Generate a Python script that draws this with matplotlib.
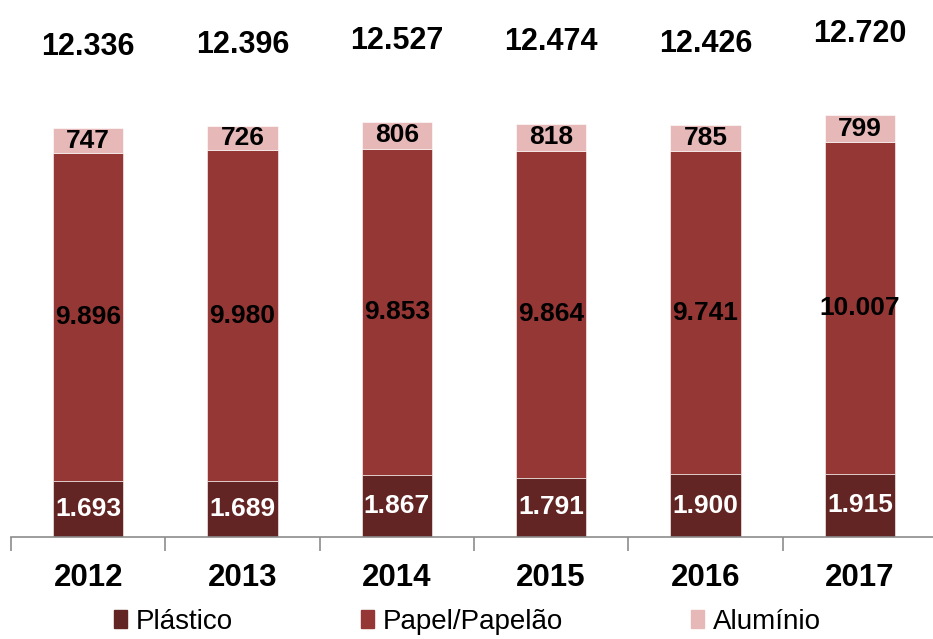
import matplotlib.pyplot as plt
from matplotlib.patches import Patch
import numpy as np

anos = ["2012", "2013", "2014", "2015", "2016", "2017"]
plastico = [1693, 1689, 1867, 1791, 1900, 1915]
papel = [9896, 9980, 9853, 9864, 9741, 10007]
aluminio = [747, 726, 806, 818, 785, 799]
totais = [12336, 12396, 12527, 12474, 12426, 12720]

c_plas = "#632523"
c_pap = "#953735"
c_alu = "#e6b9b8"


def fmt(v):
    return "{:,}".format(v).replace(",", ".")


plt.rcParams['font.family'] = ['Liberation Sans', 'DejaVu Sans']

fig = plt.figure(figsize=(9.33, 6.39), dpi=100)
ax = fig.add_axes([11 / 933, 102 / 639, 926 / 933, 537 / 639])

x = np.arange(len(anos))
w = 0.455
plas = np.array(plastico)
pap = np.array(papel)
alu = np.array(aluminio)

ax.bar(x, plas, w, color=c_plas, edgecolor="white", linewidth=0.4)
ax.bar(x, pap, w, bottom=plas, color=c_pap, edgecolor="white", linewidth=0.4)
ax.bar(x, alu, w, bottom=plas + pap, color=c_alu, edgecolor="white", linewidth=0.4)

for i in range(len(anos)):
    ax.text(x[i], plas[i] / 2, fmt(plastico[i]), ha="center", va="center",
            color="white", fontsize=19, fontweight="bold")
    ax.text(x[i], plas[i] + pap[i] / 2, fmt(papel[i]), ha="center", va="center",
            color="black", fontsize=19, fontweight="bold")
    ax.text(x[i], plas[i] + pap[i] + alu[i] / 2, fmt(aluminio[i]), ha="center",
            va="center", color="black", fontsize=19, fontweight="bold")
    ax.text(x[i], totais[i] + 2450, fmt(totais[i]), ha="center", va="center",
            color="black", fontsize=22, fontweight="bold")

ax.set_xlim(-0.5, len(anos) - 0.5)
ax.set_ylim(0, 16204)
ax.set_yticks([])
for s in ["top", "right", "left"]:
    ax.spines[s].set_visible(False)
ax.spines["bottom"].set_color("#8c8c8c")
ax.spines["bottom"].set_linewidth(1.2)

ax.set_xticks(x)
ax.set_xticklabels(anos, fontsize=22.5, fontweight="bold")
ax.tick_params(axis="x", which="major", length=0, pad=19)
ax.set_xticks(np.arange(-0.5, len(anos)), minor=True)
ax.tick_params(axis="x", which="minor", length=10, width=1.2, color="#8c8c8c")

handles = [Patch(color=c_plas), Patch(color=c_pap), Patch(color=c_alu)]
fig.legend(handles, ["Plástico", "Papel/Papelão", "Alumínio"], ncol=3,
           loc="center", bbox_to_anchor=(0.501, 1 - 622 / 639), frameon=False,
           fontsize=20, handlelength=0.47, handleheight=0.6, handletextpad=0.33,
           columnspacing=4.6)

fig.savefig("out.png", dpi=100)
